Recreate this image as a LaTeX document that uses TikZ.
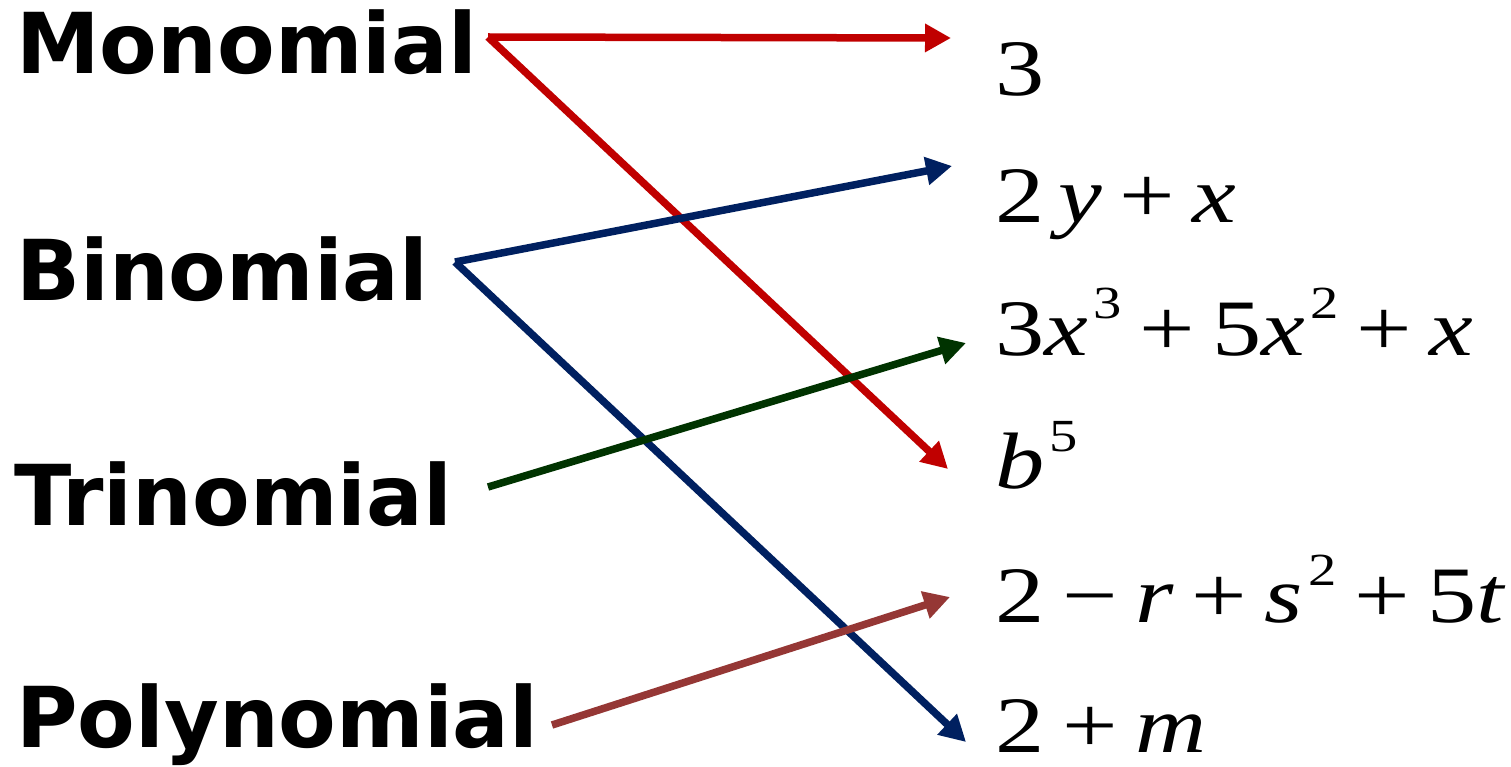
\documentclass[tikz,border=0pt]{standalone}
\usepackage{fontspec}
\usepackage{graphicx}
\usetikzlibrary{arrows.meta}
\newfontfamily\eqfont{Liberation Serif}[ItalicFont={Liberation Serif Italic}]
\newfontfamily\labfont{DejaVu Sans}[BoldFont={DejaVu Sans Bold}]
\definecolor{cRed}{HTML}{C00000}
\definecolor{cNavy}{HTML}{002060}
\definecolor{cGreen}{HTML}{003300}
\definecolor{cBrown}{HTML}{953735}
\newcommand\sups[1]{\hspace{0.05em}\raisebox{0.46em}{\fontsize{46}{46}\selectfont #1}}
\newcommand\gap{\hspace{0.18em}}
\newcommand\eqn[1]{\scalebox{1.23}[1]{#1}}
\tikzset{
  lab/.style={anchor=base west, inner sep=0pt, font=\labfont\bfseries\fontsize{84}{84}\selectfont},
  eq/.style={anchor=base west, inner sep=0pt, font=\eqfont\fontsize{80}{80}\selectfont},
  conn/.style={line width=7.5pt, -{Triangle[length=26pt,width=27pt]}},
}
\begin{document}
\begin{tikzpicture}[x=1pt,y=-1pt]
\useasboundingbox (0,0) rectangle (1511,767);
% left labels
\node[lab] (mono) at (16,74) {Monomial};
\node[lab] (bino) at (16,300) {Binomial};
\node[lab] (trino) at (14,525) {Trinomial};
\node[lab] (poly) at (16,747) {Polynomial};
% expressions
\node[eq] (e1) at (995,96) {\eqn{3}};
\node[eq] (e2) at (995,223) {\eqn{2\hspace{0.14em}\textit{y}\gap+\gap\textit{x}}};
\node[eq] (e3) at (995,355) {\eqn{3\textit{x}\sups{3}\gap+\gap5\textit{x}\sups{2}\gap+\gap\textit{x}}};
\node[eq] (e4) at (995,488) {\eqn{\textit{b}\sups{5}}};
\node[eq] (e5) at (995,622) {\eqn{2\gap−\gap\textit{r}\gap+\gap\textit{s}\sups{2}\gap+\gap5\textit{t}}};
\node[eq] (e6) at (995,752) {\eqn{2\gap+\gap\textit{m}}};
% connector ends
\coordinate (mono-o) at (488,37);
\coordinate (bino-o) at (455,262);
\coordinate (trino-o) at (488,487);
\coordinate (poly-o) at (552,725);
\coordinate (e1-in) at (951,38);
\coordinate (e2-in) at (952,166);
\coordinate (e3-in) at (966,343);
\coordinate (e4-in) at (948,469);
\coordinate (e5-in) at (950,597);
\coordinate (e6-in) at (966,742);
% connectors
\draw[conn, cRed] (mono-o) -- (e1-in);
\draw[conn, cRed] (mono-o) -- (e4-in);
\draw[conn, cNavy] (bino-o) -- (e2-in);
\draw[conn, cNavy] (bino-o) -- (e6-in);
\draw[conn, cGreen] (trino-o) -- (e3-in);
\draw[conn, cBrown] (poly-o) -- (e5-in);
\end{tikzpicture}
\end{document}
